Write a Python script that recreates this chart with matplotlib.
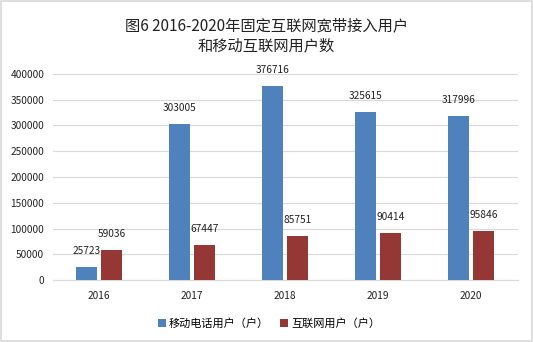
import numpy as np
import matplotlib.pyplot as plt

plt.rcParams['font.family'] = ['Noto Sans CJK SC', 'DejaVu Sans']

# data
years = ["2016", "2017", "2018", "2019", "2020"]
mobile_users = [25723, 303005, 376716, 325615, 317996]
internet_users = [59036, 67447, 85751, 90414, 95846]
series_names = ["移动电话用户（户）", "互联网用户（户）"]
title = "图6 2016-2020年固定互联网宽带接入用户\n和移动互联网用户数"

blue = "#4f81bd"
red = "#953735"

fig = plt.figure(figsize=(5.33, 3.42), dpi=100)
ax = fig.add_axes([0.0985, 0.181, 0.8725, 0.603])

x = np.arange(len(years))
w = 0.23
b1 = ax.bar(x - 0.135, mobile_users, w, color=blue, label=series_names[0], zorder=3)
b2 = ax.bar(x + 0.135, internet_users, w, color=red, label=series_names[1], zorder=3)

for bars, vals in [(b1, mobile_users), (b2, internet_users)]:
    for bar, v in zip(bars, vals):
        ax.annotate(str(v), (bar.get_x() + bar.get_width() / 2, v),
                    xytext=(0, 8), textcoords="offset points",
                    ha="center", va="bottom", fontsize=7.3, color="#222222")

ax.set_xlim(-0.5, len(years) - 0.5)
ax.set_ylim(0, 400000)
ax.set_yticks(range(0, 400001, 50000))
ax.set_xticks(x)
ax.set_xticklabels(years)
ax.tick_params(axis="both", length=0, labelsize=7.3, colors="#222222")
ax.tick_params(axis="x", pad=8)
ax.tick_params(axis="y", pad=6)
ax.grid(axis="y", color="#d9d9d9", linewidth=0.8, zorder=0)
for s in ["top", "right", "left"]:
    ax.spines[s].set_visible(False)
ax.spines["bottom"].set_color("#d9d9d9")

fig.text(0.5, 0.895, title, ha="center", va="center", fontsize=11,
         color="#222222", linespacing=1.2)

fig.legend(loc="center", bbox_to_anchor=(0.505, 0.055), ncol=2, frameon=False,
           fontsize=8, handlelength=0.7, handleheight=0.7, handletextpad=0.3,
           columnspacing=1.0)

# light frame round the figure
fig.patches.append(plt.Rectangle((0.002, 0.003), 0.996, 0.994, transform=fig.transFigure,
                                 fill=False, edgecolor="#d9d9d9", linewidth=1.2))

fig.savefig("out.png", dpi=100)
